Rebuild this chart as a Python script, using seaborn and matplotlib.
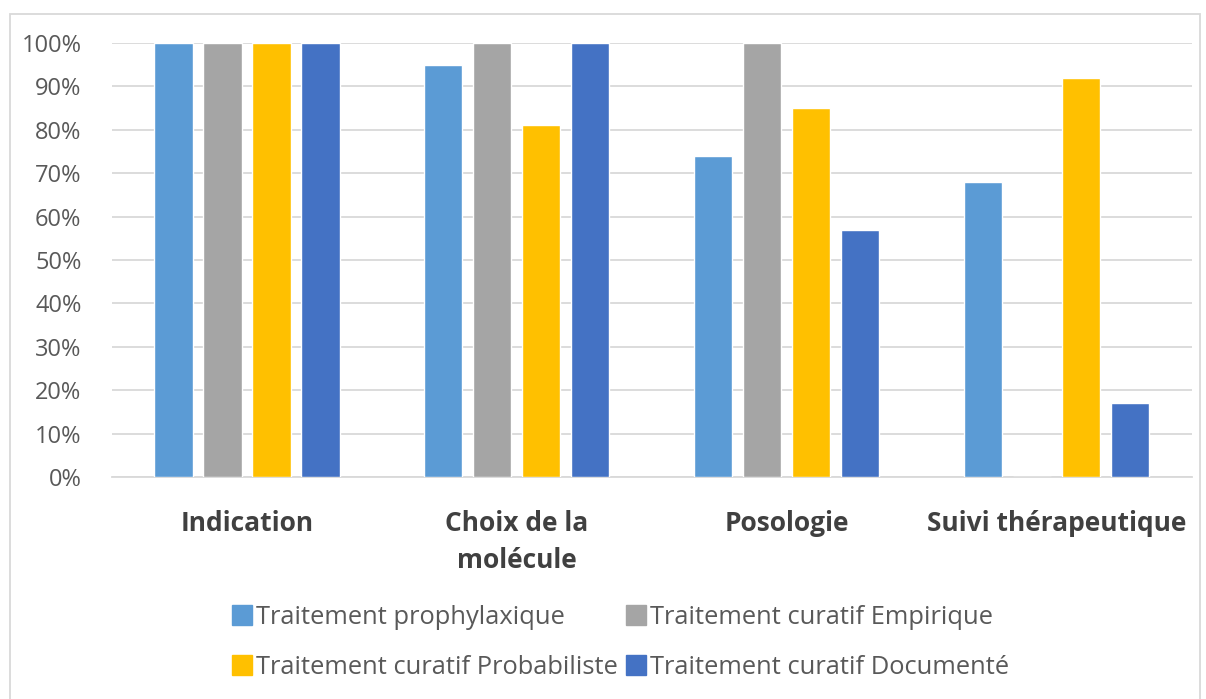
import matplotlib
matplotlib.use("Agg")
import matplotlib.pyplot as plt
import seaborn as sns
import pandas as pd
from matplotlib.patches import Rectangle
from matplotlib.lines import Line2D
from matplotlib.ticker import FuncFormatter

categories = ["Indication", "Choix de la\nmolécule", "Posologie", "Suivi thérapeutique"]
series = ["Traitement prophylaxique", "Traitement curatif Empirique",
          "Traitement curatif Probabiliste", "Traitement curatif Documenté"]
prophylaxique = [100, 95, 74, 68]
empirique = [100, 100, 100, 0]
probabiliste = [100, 81, 85, 92]
documente = [100, 100, 57, 17]
colors = ["#5B9BD5", "#A5A5A5", "#FFC000", "#4472C4"]

rows = []
for s, vals in zip(series, [prophylaxique, empirique, probabiliste, documente]):
    for c, v in zip(categories, vals):
        rows.append({"cat": c, "serie": s, "val": v})
df = pd.DataFrame(rows)

sns.set_theme(style="white")
plt.rcParams['font.family'] = ['Open Sans', 'DejaVu Sans']

fig = plt.figure(figsize=(12.06, 6.99), dpi=100)
ax = fig.add_axes([0.0929, 0.3176, 0.8951, 0.6209])

sns.barplot(data=df, x="cat", y="val", hue="serie", order=categories, hue_order=series,
            palette=colors, width=0.726, gap=0.22, saturation=1, ax=ax, legend=False,
            errorbar=None, zorder=3)

ax.set_ylim(0, 100)
ax.set_xlim(-0.5, 3.5)
ax.set_yticks(range(0, 101, 10))
ax.yaxis.set_major_formatter(FuncFormatter(lambda v, p: f"{int(v)}%"))
ax.grid(axis="y", color="#D9D9D9", linewidth=1.3, zorder=0)
ax.set_axisbelow(True)
for sp in ["top", "right", "left"]:
    ax.spines[sp].set_visible(False)
ax.spines["bottom"].set_color("#D9D9D9")
ax.spines["bottom"].set_linewidth(1.3)
ax.tick_params(axis="both", length=0)
ax.tick_params(axis="y", labelsize=17, labelcolor="#595959", pad=22)
ax.tick_params(axis="x", labelsize=19, labelcolor="#404040", pad=24)
for t in ax.get_xticklabels():
    t.set_fontweight("bold")
    t.set_linespacing(1.45)
ax.set_xlabel("")
ax.set_ylabel("")

fig.patches.append(Rectangle((10 / 1206, -0.01), 1190 / 1206, 1 - 14 / 699 + 0.01,
                             transform=fig.transFigure, fill=False,
                             edgecolor="#D9D9D9", linewidth=1.3))

handles = [Line2D([], [], marker="s", linestyle="none", markersize=15,
                  markerfacecolor=c, markeredgecolor=c) for c in colors]
order = [0, 2, 1, 3]
fig.legend([handles[i] for i in order], [series[i] for i in order],
           loc="center", bbox_to_anchor=(0.513, 0.081), ncol=2,
           frameon=False, fontsize=18.4, labelcolor="#595959", handletextpad=0.0,
           columnspacing=0.15, labelspacing=1.0, handlelength=1.1)

fig.savefig("out.png", dpi=100)
